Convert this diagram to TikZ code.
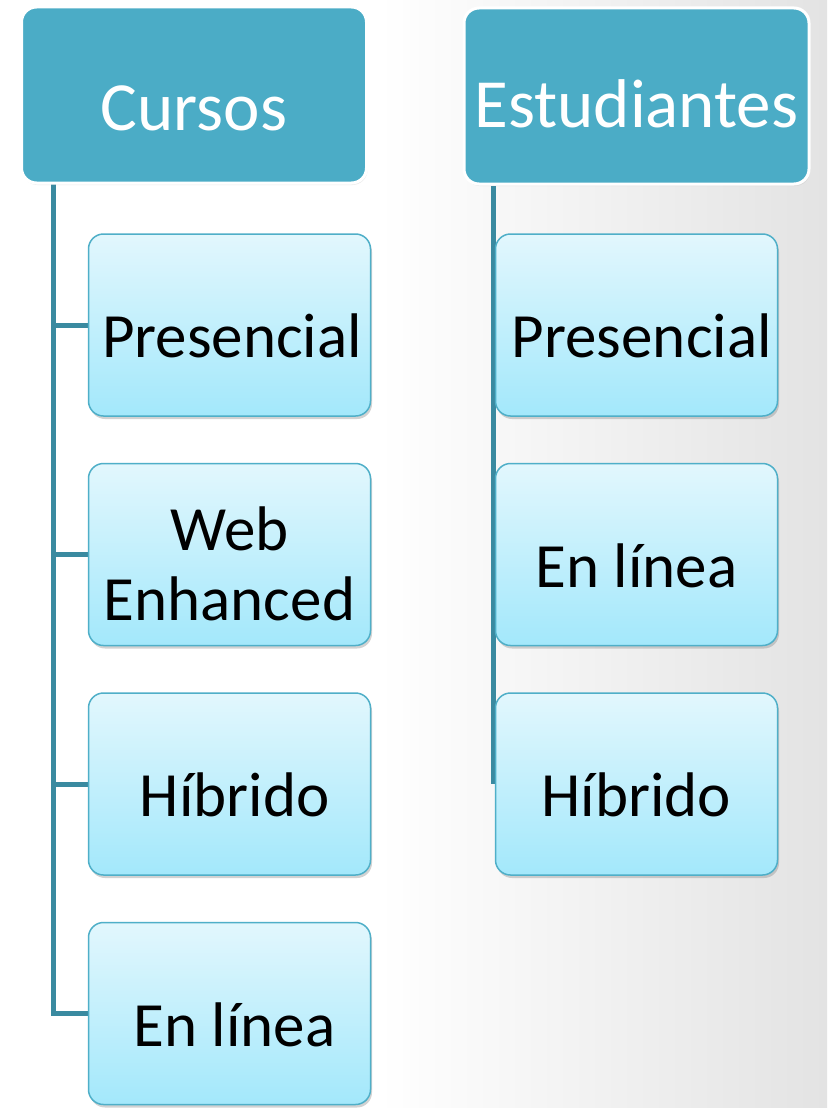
\documentclass[tikz,border=0pt]{standalone}
\usepackage{fontspec}
\setmainfont{Carlito}
\usetikzlibrary{shadows}
\definecolor{hdr}{HTML}{4BACC6}
\definecolor{conn}{HTML}{3A8AA0}
\definecolor{ctop}{HTML}{E2F7FD}
\definecolor{cbot}{HTML}{A3E8FB}
\definecolor{cbord}{HTML}{4FAFC8}
\newcommand{\lowtxt}[2][-11pt]{\raisebox{#1}[\height][\depth]{#2}}
\pgfdeclarelayer{bg}
\pgfdeclarelayer{lines}
\pgfsetlayers{bg,lines,main}
\tikzset{
  header/.style={rounded corners=15pt, fill=hdr, draw=white, line width=3pt,
    minimum width=345pt, minimum height=176pt, inner sep=0pt, text=white,
    font=\fontsize{69}{80}\selectfont,
    drop shadow={shadow xshift=1pt, shadow yshift=-2pt, opacity=0.15}},
  child/.style={rounded corners=15pt, top color=ctop, bottom color=cbot, draw=cbord,
    line width=1.5pt, minimum width=282pt, minimum height=182pt, inner sep=0pt,
    align=center, text=black, font=\fontsize{63}{70}\selectfont,
    drop shadow={shadow xshift=1.5pt, shadow yshift=-3pt, opacity=0.35}},
  connline/.style={draw=conn, line width=5pt}
}
\begin{document}
\begin{tikzpicture}[x=1pt,y=-1pt]
\useasboundingbox (0,0) rectangle (827,1108);
\begin{pgfonlayer}{bg}
  \fill[white] (0,0) rectangle (380,1108);
  \shade[left color=white, right color=black!11] (379,0) rectangle (827,1108);
\end{pgfonlayer}

\node[header] (cursos) at (194,95) {\lowtxt[-13pt]{Cursos}};
\node[header] (estud) at (636.5,96) {\lowtxt[-8pt]{Estudiantes}};

\node[child] (c1) at (229.5,325) {\lowtxt{\hspace{5pt}Presencial}};
\node[child, text width=282pt] (c2) at (229.5,554.5) {\lowtxt[-17pt]{\begin{tabular}{@{}c@{}}Web\\Enhanced\end{tabular}}};
\node[child] (c3) at (229.5,784) {\lowtxt{\,Híbrido}};
\node[child] (c4) at (229.5,1013.5) {\lowtxt{\,En línea}};

\node[child] (r1) at (636.5,325) {\lowtxt{\,Presencial}};
\node[child] (r2) at (636.5,554.5) {\lowtxt{En línea}};
\node[child] (r3) at (636.5,784) {\lowtxt{Híbrido}};

\coordinate (lt) at (53,184);
\coordinate (rt) at (493,186);
\begin{pgfonlayer}{lines}
  \draw[connline] (lt) |- (c4.west);
  \draw[connline] (lt |- c1.west) -- (c1.west);
  \draw[connline] (lt |- c2.west) -- (c2.west);
  \draw[connline] (lt |- c3.west) -- (c3.west);
  \draw[connline] (rt) -- (rt |- r3.west);
\end{pgfonlayer}
\end{tikzpicture}
\end{document}
